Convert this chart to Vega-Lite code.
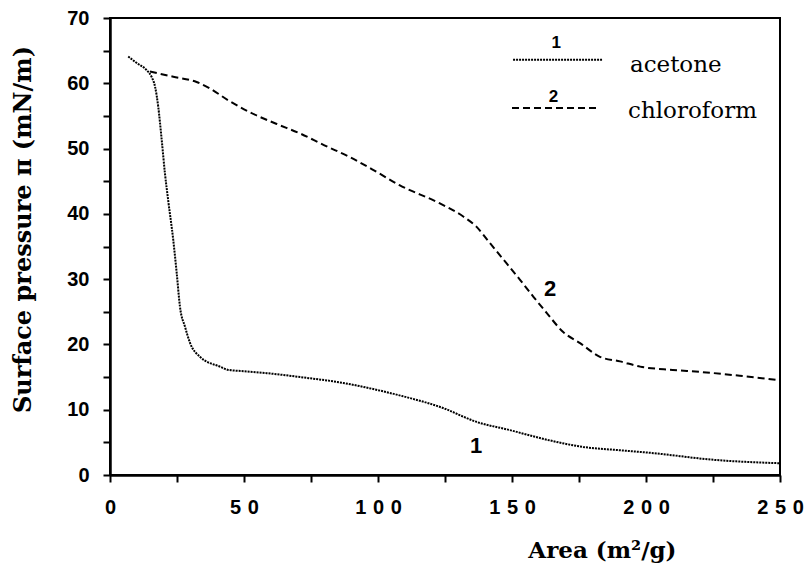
{
  "$schema": "https://vega.github.io/schema/vega-lite/v6.json",
  "width": 670,
  "height": 457,
  "autosize": {"type": "none"},
  "padding": {"left": 110, "top": 18, "right": 28, "bottom": 92},
  "background": "white",
  "config": {
    "view": {"stroke": "black", "strokeWidth": 2},
    "axis": {"grid": false, "domainColor": "black", "domainWidth": 2.5, "tickColor": "black", "tickWidth": 2, "tickSize": 7}
  },
  "datasets": {
    "curves": [
      {"series": "acetone", "area": 6.8, "pi": 64.1},
      {"series": "acetone", "area": 10, "pi": 63.1},
      {"series": "acetone", "area": 13.7, "pi": 62.0},
      {"series": "acetone", "area": 15.5, "pi": 61.0},
      {"series": "acetone", "area": 16.8, "pi": 59.5},
      {"series": "acetone", "area": 18.0, "pi": 56.4},
      {"series": "acetone", "area": 19.3, "pi": 51.3},
      {"series": "acetone", "area": 20.5, "pi": 46.2},
      {"series": "acetone", "area": 21.7, "pi": 42.1},
      {"series": "acetone", "area": 23.6, "pi": 36.0},
      {"series": "acetone", "area": 24.9, "pi": 30.9},
      {"series": "acetone", "area": 26.1, "pi": 25.8},
      {"series": "acetone", "area": 28.0, "pi": 22.7},
      {"series": "acetone", "area": 29.9, "pi": 20.2},
      {"series": "acetone", "area": 33.6, "pi": 18.1},
      {"series": "acetone", "area": 41, "pi": 16.6},
      {"series": "acetone", "area": 44.1, "pi": 16.1},
      {"series": "acetone", "area": 50, "pi": 15.9},
      {"series": "acetone", "area": 58.5, "pi": 15.6},
      {"series": "acetone", "area": 71, "pi": 15.0},
      {"series": "acetone", "area": 87, "pi": 14.1},
      {"series": "acetone", "area": 100, "pi": 13.0},
      {"series": "acetone", "area": 108, "pi": 12.2},
      {"series": "acetone", "area": 124, "pi": 10.3},
      {"series": "acetone", "area": 137, "pi": 8.1},
      {"series": "acetone", "area": 149, "pi": 6.9},
      {"series": "acetone", "area": 162, "pi": 5.5},
      {"series": "acetone", "area": 176.5, "pi": 4.3},
      {"series": "acetone", "area": 190, "pi": 3.8},
      {"series": "acetone", "area": 201.5, "pi": 3.4},
      {"series": "acetone", "area": 226, "pi": 2.3},
      {"series": "acetone", "area": 250, "pi": 1.8},
      {"series": "chloroform", "area": 14.9, "pi": 61.8},
      {"series": "chloroform", "area": 23.6, "pi": 61.0},
      {"series": "chloroform", "area": 32.3, "pi": 60.2},
      {"series": "chloroform", "area": 37.3, "pi": 59.2},
      {"series": "chloroform", "area": 44.1, "pi": 57.4},
      {"series": "chloroform", "area": 52, "pi": 55.6},
      {"series": "chloroform", "area": 62, "pi": 53.8},
      {"series": "chloroform", "area": 71, "pi": 52.3},
      {"series": "chloroform", "area": 80, "pi": 50.5},
      {"series": "chloroform", "area": 89.5, "pi": 48.7},
      {"series": "chloroform", "area": 100, "pi": 46.3},
      {"series": "chloroform", "area": 108, "pi": 44.4},
      {"series": "chloroform", "area": 123.1, "pi": 41.6},
      {"series": "chloroform", "area": 131.8, "pi": 39.6},
      {"series": "chloroform", "area": 136.8, "pi": 38.0},
      {"series": "chloroform", "area": 141.8, "pi": 35.5},
      {"series": "chloroform", "area": 148, "pi": 32.4},
      {"series": "chloroform", "area": 153, "pi": 29.9},
      {"series": "chloroform", "area": 158, "pi": 27.3},
      {"series": "chloroform", "area": 163, "pi": 24.8},
      {"series": "chloroform", "area": 169.1, "pi": 21.9},
      {"series": "chloroform", "area": 175.4, "pi": 20.2},
      {"series": "chloroform", "area": 182.8, "pi": 18.1},
      {"series": "chloroform", "area": 190.3, "pi": 17.4},
      {"series": "chloroform", "area": 197.8, "pi": 16.6},
      {"series": "chloroform", "area": 210, "pi": 16.1},
      {"series": "chloroform", "area": 220, "pi": 15.8},
      {"series": "chloroform", "area": 235, "pi": 15.2},
      {"series": "chloroform", "area": 250, "pi": 14.5}
    ],
    "keyLines": [
      {"series": "acetone", "area": 150.4, "pi": 63.6},
      {"series": "acetone", "area": 183.6, "pi": 63.6},
      {"series": "chloroform", "area": 150, "pi": 56.2},
      {"series": "chloroform", "area": 181.7, "pi": 56.2}
    ],
    "keyNumbers": [
      {"label": "1", "area": 166.5, "pi": 65.4},
      {"label": "2", "area": 165.5, "pi": 57.1}
    ],
    "curveNumbers": [
      {"label": "1", "area": 136.6, "pi": 3.4},
      {"label": "2", "area": 164.2, "pi": 27.4}
    ],
    "names": [
      {"label": "acetone", "area": 194, "pi": 61.7},
      {"label": "chloroform", "area": 193.3, "pi": 54.7}
    ]
  },
  "encoding": {
    "x": {
      "field": "area", "type": "quantitative",
      "scale": {"domain": [0, 250], "nice": false, "zero": false},
      "axis": {
        "title": "Area (m²/g)",
        "values": [0, 25, 50, 75, 100, 125, 150, 175, 200, 225, 250],
        "labelExpr": "datum.value % 50 == 0 ? join(split(datum.label, ''), '\u2004') : ''",
        "labelFont": "Liberation Sans", "labelFontWeight": "bold", "labelFontSize": 20, "labelColor": "black",
        "labelPadding": 15, "labelFlush": false, "labelOverlap": false,
        "titleFont": "DejaVu Serif", "titleFontWeight": "bold", "titleFontSize": 23, "titleColor": "black",
        "titleAnchor": "end", "titleAlign": "right", "titleX": 566, "titleY": 82, "titleBaseline": "alphabetic"
      }
    },
    "y": {
      "field": "pi", "type": "quantitative",
      "scale": {"domain": [0, 70], "nice": false},
      "axis": {
        "title": "Surface pressure π (mN/m)",
        "values": [0, 5, 10, 15, 20, 25, 30, 35, 40, 45, 50, 55, 60, 65, 70],
        "labelExpr": "datum.value % 10 == 0 ? datum.label : ''",
        "labelFont": "Liberation Sans", "labelFontWeight": "bold", "labelFontSize": 20, "labelColor": "black",
        "labelPadding": 14, "labelFlush": false, "labelOverlap": false,
        "titleFont": "DejaVu Serif", "titleFontWeight": "bold", "titleFontSize": 24, "titleColor": "black",
        "titleX": -80, "titleY": 211, "titleBaseline": "alphabetic", "titleAngle": -90, "titleAnchor": "middle"
      }
    }
  },
  "layer": [
    {
      "data": {"name": "curves"},
      "mark": {"type": "line", "interpolate": "monotone", "color": "black", "strokeWidth": 2},
      "encoding": {
        "detail": {"field": "series"},
        "strokeDash": {"field": "series", "type": "nominal", "scale": {"domain": ["acetone", "chloroform"], "range": [[2, 1], [7, 4]]}, "legend": null}
      }
    },
    {
      "data": {"name": "keyLines"},
      "mark": {"type": "line", "color": "black", "strokeWidth": 2},
      "encoding": {
        "detail": {"field": "series"},
        "strokeDash": {"field": "series", "type": "nominal", "scale": {"domain": ["acetone", "chloroform"], "range": [[2, 1], [7, 4]]}, "legend": null}
      }
    },
    {
      "data": {"name": "keyNumbers"},
      "mark": {"type": "text", "font": "Liberation Sans", "fontWeight": "bold", "fontSize": 17, "color": "black", "align": "center", "baseline": "alphabetic"},
      "encoding": {"text": {"field": "label"}}
    },
    {
      "data": {"name": "curveNumbers"},
      "mark": {"type": "text", "font": "Liberation Sans", "fontWeight": "bold", "fontSize": 22, "color": "black", "align": "center", "baseline": "alphabetic"},
      "encoding": {"text": {"field": "label"}}
    },
    {
      "data": {"name": "names"},
      "mark": {"type": "text", "font": "DejaVu Serif", "fontSize": 23, "color": "black", "align": "left", "baseline": "alphabetic"},
      "encoding": {"text": {"field": "label"}}
    }
  ]
}
